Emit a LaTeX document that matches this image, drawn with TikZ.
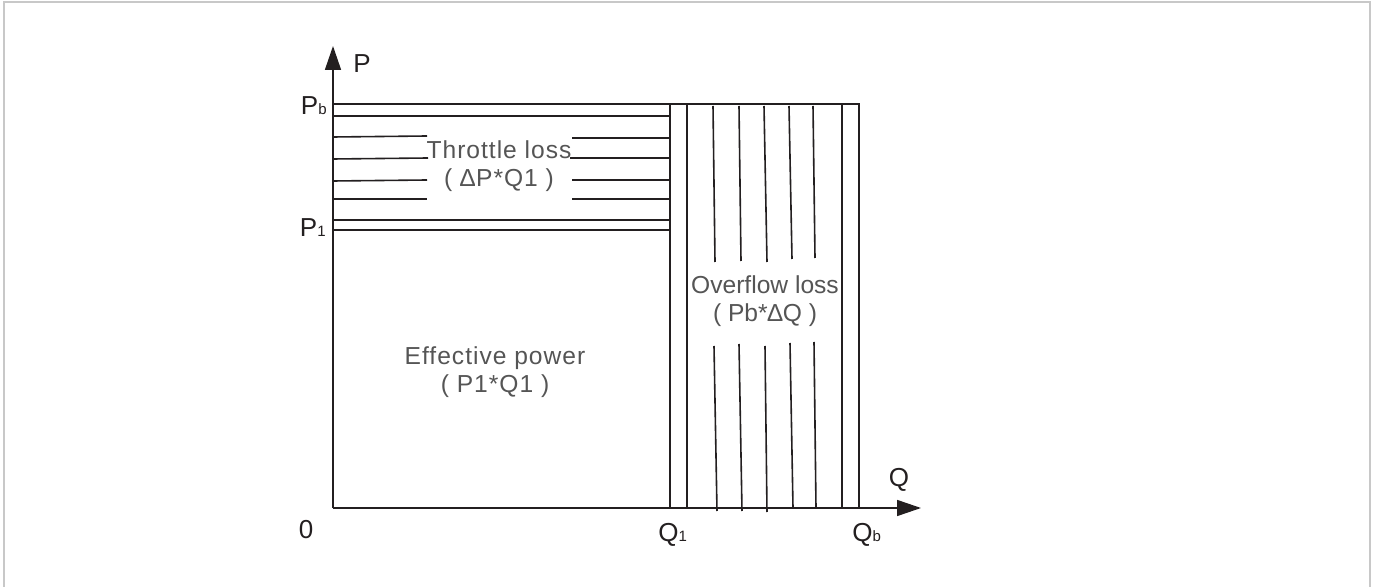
\documentclass[tikz,border=0pt]{standalone}
\usepackage{fontspec}
\setmainfont{Liberation Sans}
\newfontfamily\lblfont[LetterSpace=4]{Liberation Sans}
\usetikzlibrary{arrows.meta}
\definecolor{ink}{HTML}{231F20}
\definecolor{txt}{HTML}{555555}
\definecolor{framec}{HTML}{C8C8C8}
\begin{document}
\begin{tikzpicture}[x=0.5pt,y=-0.5pt,
  ln/.style={draw=ink,line width=0.8pt},
  ax/.style={ln,-{Triangle[length=12pt,width=8pt]}},
  area/.style={text=txt,font=\lblfont\fontsize{12.3}{14}\selectfont,align=center,inner sep=0pt},
  tightarea/.style={area,font=\rmfamily\fontsize{12.3}{14}\selectfont},
  axlbl/.style={text=ink,font=\fontsize{13}{15}\selectfont,inner sep=0pt}]
\useasboundingbox (0,0) rectangle (1376,587);
\draw[framec,line width=1pt] (4,590) -- (4,2) -- (1370,2) -- (1370,590);
% axes
\coordinate (O) at (333,508);
\coordinate (ytip) at (333,46);
\coordinate (xtip) at (921,508);
\draw[ax] (O) -- (ytip);
\draw[ax] (O) -- (xtip);
% axis labels
\node[axlbl] (Plbl) at (362,64) {P};
\node[axlbl] (Qlbl) at (899,480) {Q};
\node[axlbl] (zero) at (306,530) {0};
\node[axlbl,anchor=base east] (Pb) at (327,115) {P{\fontsize{7.5}{8}\selectfont b}};
\node[axlbl,anchor=base east] (Pone) at (326,237) {P{\fontsize{7.5}{8}\selectfont 1}};
\node[axlbl,anchor=base west] (Qone) at (658,541) {Q{\fontsize{7.5}{8}\selectfont 1}};
\node[axlbl,anchor=base west] (Qb) at (852,541) {Q{\fontsize{7.5}{8}\selectfont b}};
% outer box of the loss regions
\draw[ln] (333,104) -- (859,104) -- (859,508);
\draw[ln] (670,104) -- (670,508);
% throttle loss hatching
\draw[ln] (333,116) -- (670,116);
\draw[ln] (333,220) -- (670,220);
\draw[ln] (333,230) -- (670,230);
\draw[ln] (333,137) -- (427,136);
\draw[ln] (572,138) -- (670,138);
\draw[ln] (333,159) -- (428,158);
\draw[ln] (570,158) -- (670,158);
\draw[ln] (333,181) -- (427,180);
\draw[ln] (572,180) -- (670,180);
\draw[ln] (333,199) -- (427,199);
\draw[ln] (572,199) -- (670,199);
% overflow loss hatching
\draw[ln] (687,104) -- (687,508);
\draw[ln] (842,104) -- (842,508);
\draw[ln] (713,106) -- (715,262);
\draw[ln] (714,346) -- (717,511);
\draw[ln] (739,106) -- (741,261);
\draw[ln] (739,344) -- (742,511);
\draw[ln] (764,106) -- (767,262);
\draw[ln] (765,346) -- (767,512);
\draw[ln] (789,106) -- (792,259);
\draw[ln] (790,343) -- (793,508);
\draw[ln] (813,106) -- (815,258);
\draw[ln] (814,342) -- (816,508);
% area labels
\node[area] (thr) at (499,166) {Throttle loss\\( ∆P*Q1 )};
\node[area] (eff) at (495,372) {Effective power\\( P1*Q1 )};
\node[tightarea] (ovf) at (765,301) {Overflow loss\\( Pb*∆Q )};
\end{tikzpicture}
\end{document}
